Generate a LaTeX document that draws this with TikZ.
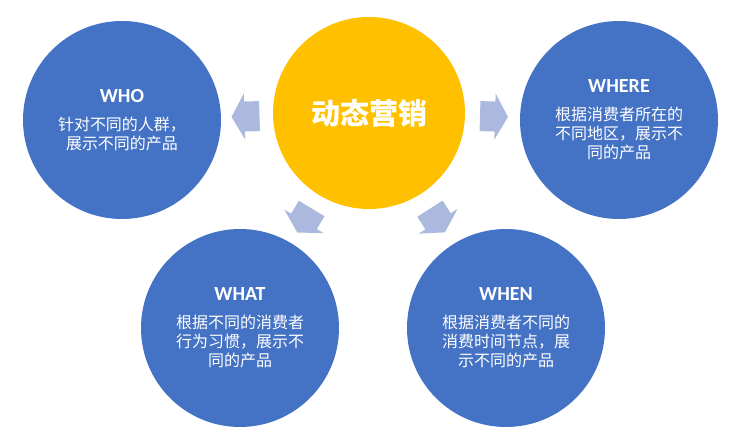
\documentclass[tikz,border=0pt]{standalone}
\usepackage{fontspec}
\setmainfont{Carlito}
\newfontfamily\cjk{Noto Sans CJK SC}
\newfontfamily\ttlfont{Carlito}
\usetikzlibrary{calc}
\definecolor{bubbleblue}{HTML}{4472C4}
\definecolor{sunyellow}{HTML}{FFC000}
\definecolor{arrowblue}{HTML}{AAB9DD}
\newcommand\ttl[1]{{\ttlfont\bfseries\fontsize{20}{20}\selectfont #1}}
\tikzset{
  bubble/.style={circle, fill=bubbleblue, text=white, minimum size=198pt,
    inner sep=0pt, align=center, font=\cjk\fontsize{16}{19}\selectfont},
  hub/.style={circle, fill=sunyellow, text=white, minimum size=192pt,
    inner sep=0pt, font=\cjk\bfseries\fontsize{29}{34}\selectfont},
  blockarrow/.pic={\fill[arrowblue] (-14,-15) -- (1,-15) -- (1,-23) -- (14,0)
    -- (1,23) -- (1,15) -- (-14,15) -- cycle;}
}
\begin{document}
\begin{tikzpicture}[x=1pt,y=-1pt]
\fill[white] (0,0) rectangle (748,443);
\useasboundingbox (0,0) rectangle (748,443);
\node[hub] (c) at (369,113) {动态营销};
\node[bubble] (who) at (122,120) {\ttl{WHO}\\[9pt]针对不同的人群，\\展示不同的产品};
\node[bubble] (where) at (619,120) {\ttl{WHERE}\\[9pt]根据消费者所在的\\不同地区，展示不\\同的产品};
\node[bubble] (what) at (240,328) {\ttl{WHAT}\\[9pt]根据不同的消费者\\行为习惯，展示不\\同的产品};
\node[bubble] (when) at (506,328) {\ttl{WHEN}\\[9pt]根据消费者不同的\\消费时间节点，展\\示不同的产品};
\foreach \t in {who,where,what,when}
  \path let \p1=($(\t)-(c)$), \n1={atan2(\y1,\x1)} in
    ($(c)!0.5!(\t)$) pic[rotate=\n1] {blockarrow};
\end{tikzpicture}
\end{document}
